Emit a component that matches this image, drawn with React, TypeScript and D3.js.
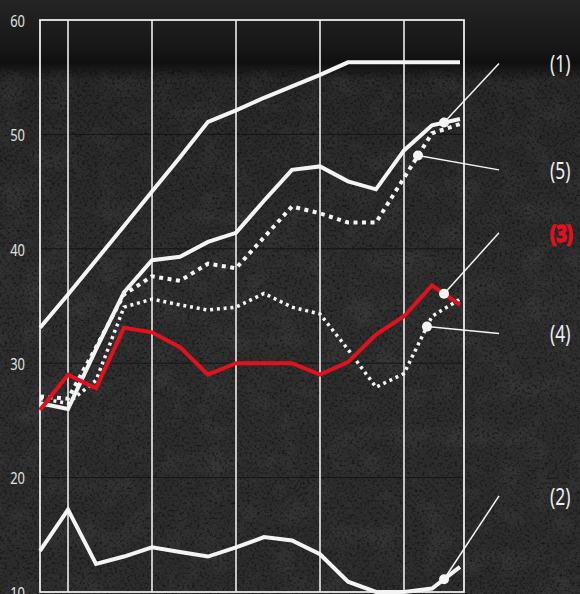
import * as d3 from "d3";

const W = 580;
const H = 594;
const PLOT = { left: 40, right: 464, top: 20, bottom: 592 };

// one step per period; the last index sits on the right edge
const STEPS = [0, 1, 2, 3, 4, 5, 6, 7, 8, 9, 10, 11, 12, 13, 14, 15];
const GRID_STEPS = [1, 4, 7, 10, 13];
const Y_TICKS = [10, 20, 30, 40, 50, 60];

// values
const TOP_LINE = [33.1, 36.0, 39.0, 42.0, 45.0, 48.0, 51.1, 52.1, 53.2, 54.2, 55.2, 56.3, 56.3, 56.3, 56.3, 56.3];
const SERIES_1 = [26.5, 26.0, 31.2, 36.2, 39.0, 39.3, 40.6, 41.4, 44.2, 46.9, 47.2, 45.9, 45.2, 48.6, 50.8, 51.35];
const SERIES_5 = [27.1, 26.9, 31.4, 36.0, 37.6, 37.2, 38.7, 38.3, 41.0, 43.7, 43.1, 42.3, 42.3, 46.2, 50.1, 50.9];
const SERIES_4 = [26.9, 26.5, 28.5, 34.9, 35.6, 35.1, 34.65, 34.9, 36.1, 34.9, 34.3, 31.2, 27.9, 29.1, 34.1, 35.6];
const SERIES_3 = [25.9, 29.0, 27.8, 33.1, 32.7, 31.4, 29.0, 30.0, 30.0, 30.0, 29.0, 30.1, 32.5, 34.1, 36.8, 35.1];
const SERIES_2 = [13.6, 17.2, 12.45, 13.1, 13.9, 13.5, 13.1, 13.9, 14.8, 14.5, 13.3, 10.9, 9.0, 9.0, 10.3, 12.2];

// labels on the right: which series, where the dot sits (step), where the text sits (value)
const LABELS = ["(1)", "(5)", "(3)", "(4)", "(2)"];
const LABEL_SERIES = [SERIES_1, SERIES_5, SERIES_3, SERIES_4, SERIES_2];
const LABEL_AT_STEP = [14.43, 13.5, 14.43, 13.82, 14.43];
const LABEL_AT_VALUE = [56.2, 46.9, 41.4, 32.6, 18.4];

const RED = "#e3101e";
const WHITE = "#f4f4f4";
const FONT = "'Noto Sans', 'DejaVu Sans', sans-serif";
const NARROW = 0.76; // the original type is a condensed face

const x = d3.scaleLinear().domain([0, 15]).range([PLOT.left, PLOT.left + 28 * 15]);
const y = d3.scaleLinear().domain([10, 60]).range([PLOT.bottom, PLOT.top]).clamp(true);

const line = d3
  .line<number>()
  .x((_, i) => x(STEPS[i]))
  .y((d) => y(d));

// value of a series between two steps
const valueAt = (values: number[], step: number) => {
  const i = Math.floor(step);
  const t = step - i;
  return values[i] + (values[Math.min(i + 1, values.length - 1)] - values[i]) * t;
};

export default function App() {
  const series = [
    { values: TOP_LINE, color: WHITE, width: 4, dash: undefined },
    { values: SERIES_1, color: WHITE, width: 4, dash: undefined },
    { values: SERIES_5, color: WHITE, width: 4, dash: "4,4.5" },
    { values: SERIES_4, color: WHITE, width: 3.5, dash: "3,3.8" },
    { values: SERIES_2, color: WHITE, width: 4, dash: undefined },
    { values: SERIES_3, color: RED, width: 4, dash: undefined },
  ];

  return (
    <svg
      width={W}
      height={H}
      style={{ position: "absolute", left: 0, top: 0, display: "block" }}
    >
      <defs>
        <linearGradient id="bg" x1="0" y1="0" x2="0" y2="1">
          <stop offset="0" stopColor="#242424" />
          <stop offset="0.085" stopColor="#161616" />
          <stop offset="0.105" stopColor="#0f0f0f" />
          <stop offset="0.135" stopColor="#282828" />
          <stop offset="0.5" stopColor="#2e2e2e" />
          <stop offset="1" stopColor="#2c2c2c" />
        </linearGradient>
        <filter id="specks" x="0" y="0" width="100%" height="100%">
          <feTurbulence type="fractalNoise" baseFrequency="0.4" numOctaves="3" seed="7" />
          <feColorMatrix
            type="matrix"
            values="0 0 0 0 0  0 0 0 0 0  0 0 0 0 0  2.4 0 0 0 -1.15"
          />
        </filter>
        <filter id="grain" x="0" y="0" width="100%" height="100%">
          <feTurbulence type="fractalNoise" baseFrequency="0.04" numOctaves="4" seed="3" />
          <feColorMatrix
            type="matrix"
            values="0 0 0 0 1  0 0 0 0 1  0 0 0 0 1  0 1.3 0 0 -0.55"
          />
        </filter>
      </defs>

      {/* textured background */}
      <rect width={W} height={H} fill="url(#bg)" />
      <rect y={70} width={W} height={H - 70} filter="url(#grain)" opacity={0.08} />
      <rect y={70} width={W} height={H - 70} filter="url(#specks)" opacity={0.6} />

      {/* faint horizontal grid */}
      {Y_TICKS.slice(1, -1).map((t) => (
        <line
          key={t}
          x1={PLOT.left}
          x2={PLOT.right}
          y1={y(t)}
          y2={y(t)}
          stroke="#151515"
          strokeWidth={1}
        />
      ))}

      {/* vertical grid and frame */}
      {GRID_STEPS.map((s) => (
        <line
          key={s}
          x1={x(s)}
          x2={x(s)}
          y1={PLOT.top}
          y2={PLOT.bottom}
          stroke="#ececec"
          strokeWidth={1.6}
        />
      ))}
      <rect
        x={PLOT.left}
        y={PLOT.top}
        width={PLOT.right - PLOT.left}
        height={PLOT.bottom - PLOT.top}
        fill="none"
        stroke="#ececec"
        strokeWidth={1.8}
      />

      {/* y tick labels */}
      {Y_TICKS.map((t) => (
        <text
          key={t}
          transform={`translate(25,${y(t)}) scale(${NARROW},1)`}
          textAnchor="end"
          dominantBaseline="central"
          fontFamily={FONT}
          fontSize={17}
          fill="#e2e2e2"
        >
          {t}
        </text>
      ))}

      {/* series */}
      {series.map((s, i) => (
        <path
          key={i}
          d={line(s.values) ?? ""}
          fill="none"
          stroke={s.color}
          strokeWidth={s.width}
          strokeDasharray={s.dash}
          strokeLinejoin="miter"
        />
      ))}

      {/* labels with leader lines */}
      {LABELS.map((label, i) => {
        const dx = x(LABEL_AT_STEP[i]);
        const dy = y(valueAt(LABEL_SERIES[i], LABEL_AT_STEP[i]));
        const ly = y(LABEL_AT_VALUE[i]);
        const isRed = label === "(3)";
        return (
          <g key={label}>
            <line x1={dx} y1={dy} x2={499} y2={ly} stroke={WHITE} strokeWidth={1.5} />
            <circle cx={dx} cy={dy} r={5} fill={WHITE} />
            <text
              transform={`translate(550,${ly}) scale(${NARROW},1)`}
              dominantBaseline="central"
              fontFamily={FONT}
              fontSize={isRed ? 24 : 23}
              fontWeight={isRed ? 700 : 400}
              fill={isRed ? RED : "#ededed"}
              stroke={isRed ? RED : "none"}
              strokeWidth={isRed ? 1.6 : 0}
            >
              {label}
            </text>
          </g>
        );
      })}
    </svg>
  );
}
